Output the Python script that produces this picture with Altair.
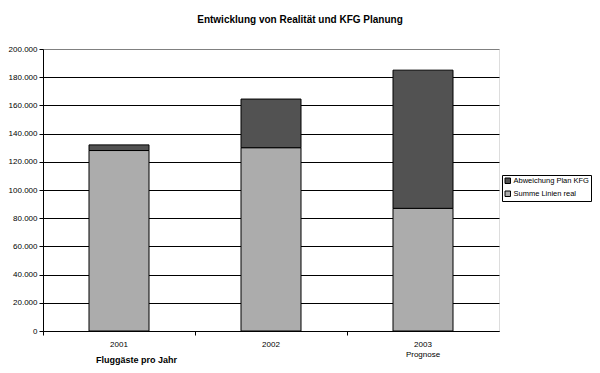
import altair as alt
import pandas as pd

years = ["2001", "2002", "2003"]
summe_linien_real = [128000, 130000, 87000]
abweichung_plan_kfg = [4000, 34500, 98000]
series = ["Abweichung Plan KFG", "Summe Linien real"]
y_ticks = list(range(0, 200001, 20000))

rows = []
for i, yr in enumerate(years):
    rows.append({"Jahr": yr, "Serie": series[1], "Wert": summe_linien_real[i], "ord": 0})
    rows.append({"Jahr": yr, "Serie": series[0], "Wert": abweichung_plan_kfg[i], "ord": 1})
df = pd.DataFrame(rows)

FONT = "Liberation Sans"

chart = alt.Chart(df).mark_bar(size=60, stroke="black", strokeWidth=1).encode(
    x=alt.X(
        "Jahr:N",
        sort=years,
        scale=alt.Scale(paddingInner=0, paddingOuter=0),
        axis=alt.Axis(
            title="Fluggäste pro Jahr",
            titleFont=FONT, titleFontSize=9, titleFontWeight="bold",
            titleX=93, titleY=28, titleAlign="center", titleBaseline="middle",
            labelAngle=0, labelFont=FONT, labelFontSize=8, labelColor="black",
            labelPadding=5,
            labelExpr="datum.value == '2003' ? ['2003', 'Prognose'] : datum.value",
            bandPosition=0, tickSize=4, tickColor="black", domainColor="black",
            grid=False,
        ),
    ),
    y=alt.Y(
        "Wert:Q",
        stack="zero",
        scale=alt.Scale(domain=[0, 200000], nice=False),
        axis=alt.Axis(
            title=None, values=y_ticks,
            labelExpr="replace(format(datum.value, ','), ',', '.')",
            labelFont=FONT, labelFontSize=8, labelColor="black", labelPadding=2,
            tickSize=4, tickColor="black", domainColor="black",
            grid=True, gridWidth=1,
            gridColor={"condition": {"test": "datum.value == 200000", "value": "#808080"}, "value": "black"},
        ),
    ),
    color=alt.Color(
        "Serie:N",
        scale=alt.Scale(domain=series, range=["#525252", "#acacac"]),
        legend=alt.Legend(
            title=None, orient="none", legendX=459, legendY=126,
            fillColor="white", strokeColor="black", padding=2,
            symbolType="square", symbolSize=30, symbolStrokeColor="black",
            symbolStrokeWidth=1, labelFont=FONT, labelFontSize=7.5,
            labelColor="black", rowPadding=3, labelLimit=200, symbolOffset=0,
            labelOffset=2,
        ),
    ),
    order=alt.Order("ord:Q"),
).properties(
    width=456,
    height=282,
    title=alt.TitleParams(
        "Entwicklung von Realität und KFG Planung",
        font=FONT, fontSize=10, fontWeight="bold", color="black",
        anchor="middle", dx=29, offset=20,
    ),
    padding={"left": 35, "top": 41, "right": 93, "bottom": 34},
    autosize=alt.AutoSizeParams(type="none"),
).configure_view(
    fill="#c4c3c8", stroke="#808080", strokeWidth=1,
).configure(background="white")

chart.save("out.html", embed_options={"renderer": "svg", "actions": False})
